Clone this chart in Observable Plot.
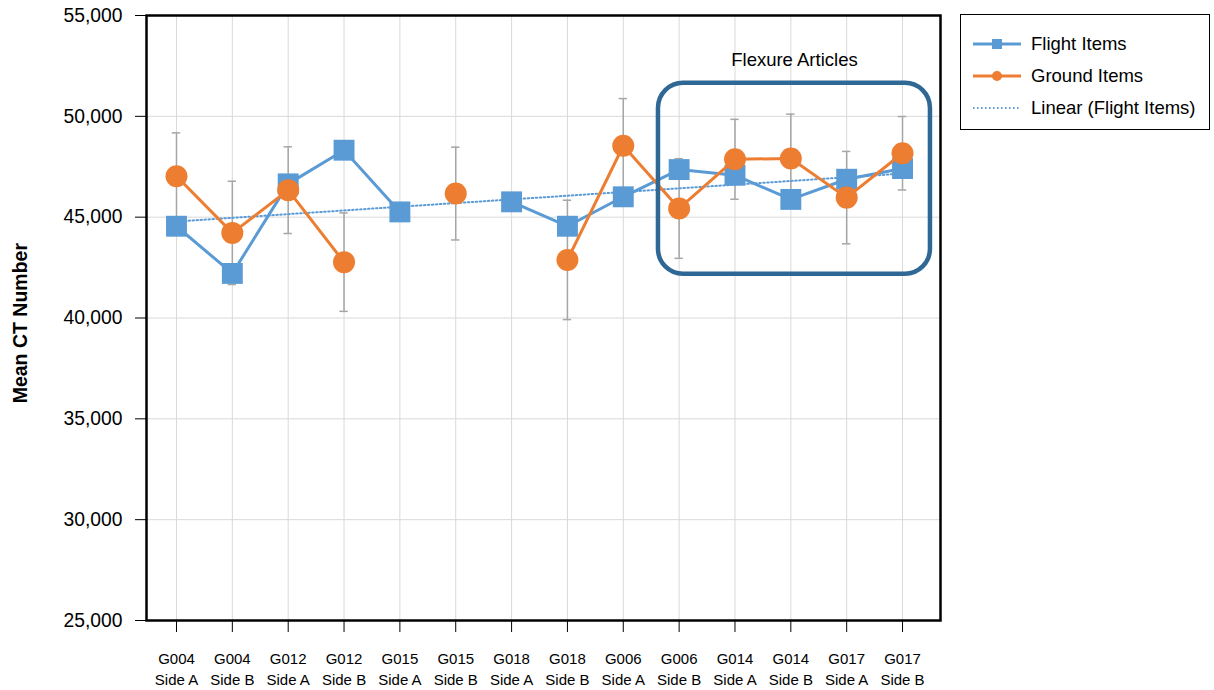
<!DOCTYPE html>
<html>
<head>
<meta charset="utf-8">
<script src="https://cdn.jsdelivr.net/npm/d3@7"></script>
<script src="https://cdn.jsdelivr.net/npm/@observablehq/plot@0.6"></script>
<style>
  html, body { margin: 0; padding: 0; background: white; }
  #wrap { position: relative; width: 1214px; height: 690px; font-family: "Liberation Sans", Arial, sans-serif; }
  #legend { position: absolute; left: 960px; top: 14px; width: 250px; height: 116px; border: 1.5px solid #000; box-sizing: border-box; background: white; }
  .item { position: absolute; left: 12px; height: 24px; display: flex; align-items: center; font-size: 18.5px; color: #000; }
  .item svg { margin-right: 10px; }
</style>
</head>
<body>
<div id="wrap"><div id="chart"></div>
  <div id="legend"></div>
</div>
<script>
// ---- Data ----
const items = ["G004","G004","G012","G012","G015","G015","G018","G018","G006","G006","G014","G014","G017","G017"];
const sides = ["Side A","Side B","Side A","Side B","Side A","Side B","Side A","Side B","Side A","Side B","Side A","Side B","Side A","Side B"];
const flight = [44550, 42210, 46650, 48320, 45260, null, 45760, 44550, 46010, 47360, 47080, 45880, 46880, 47410];
const ground = [47030, 44220, 46340, 42770, null, 46170, null, 42880, 48540, 45430, 47870, 47910, 45970, 48170];
const groundErr = [2150, 2560, 2150, 2440, null, 2300, null, 2960, 2340, 2470, 1980, 2200, 2290, 1820];
const yTicks = [25000, 30000, 35000, 40000, 45000, 50000, 55000];
const seriesNames = ["Flight Items", "Ground Items", "Linear (Flight Items)"];
const yLabel = "Mean CT Number";
// annotation box (data units: category index / CT number)
const flexureLabel = "Flexure Articles";
const flexureBox = {x1: 8.63, x2: 13.5, y1: 42170, y2: 51640};
const flexureLabelY = 52780;
// y-axis title anchor (data units, outside the frame)
const yLabelPos = {x: -2.79, y: 39745};

const blue = "#5B9BD5", orange = "#ED7D31";

const rows = items.map((it, i) => ({i, label: it + "\n" + sides[i], flight: flight[i], ground: ground[i], err: groundErr[i]}));
const gRows = rows.filter(d => d.ground != null && d.err != null);
const fRows = rows.filter(d => d.flight != null);

// linear trend of flight items (least squares over category index)
const mx = d3.mean(fRows, d => d.i), my = d3.mean(fRows, d => d.flight);
const slope = d3.sum(fRows, d => (d.i - mx) * (d.flight - my)) / d3.sum(fRows, d => (d.i - mx) ** 2);
const trend = rows.map(d => ({i: d.i, y: my + slope * (d.i - mx)}));

const caps = gRows.flatMap(d => [{i: d.i, y: d.ground - d.err}, {i: d.i, y: d.ground + d.err}]);

const chart = Plot.plot({
  width: 1214,
  height: 690,
  marginLeft: 146,
  marginRight: 274,
  marginTop: 15,
  marginBottom: 70,
  style: {fontFamily: "'Liberation Sans', Arial, sans-serif", color: "#000", background: "white"},
  x: {type: "linear", domain: [-0.537, 13.68]},
  y: {domain: [25000, 55000]},
  marks: [
    Plot.gridY({ticks: yTicks, stroke: "#d9d9d9", strokeOpacity: 1}),
    Plot.gridX({ticks: d3.range(items.length), stroke: "#d9d9d9", strokeOpacity: 1}),
    Plot.axisY({ticks: yTicks, tickFormat: d3.format(","), tickSize: 11, tickPadding: 13, fontSize: 19.3, label: null}),
    Plot.axisX({ticks: d3.range(items.length), tickFormat: i => rows[i].label, tickSize: 12, tickPadding: 17, fontSize: 15, lineHeight: 1.4, label: null}),
    Plot.ruleX(gRows, {x: "i", y1: d => d.ground - d.err, y2: d => d.ground + d.err, stroke: "#a6a6a6", strokeWidth: 1.5}),
    Plot.ruleY(caps, {y: "y", x1: d => d.i - 0.075, x2: d => d.i + 0.075, stroke: "#a6a6a6", strokeWidth: 1.5}),
    Plot.line(trend, {x: "i", y: "y", stroke: blue, strokeWidth: 2, strokeDasharray: "1.5,2.5"}),
    Plot.line(rows, {x: "i", y: "flight", stroke: blue, strokeWidth: 3}),
    Plot.dot(fRows, {x: "i", y: "flight", symbol: "square", r: 11.8, fill: blue, stroke: "none"}),
    Plot.line(rows, {x: "i", y: "ground", stroke: orange, strokeWidth: 3}),
    Plot.dot(rows.filter(d => d.ground != null), {x: "i", y: "ground", r: 11, fill: orange, stroke: "none"}),
    Plot.rect([flexureBox], {x1: "x1", x2: "x2", y1: "y1", y2: "y2", rx: 25, fill: "none", stroke: "#2F6795", strokeWidth: 4.5}),
    Plot.text([flexureLabel], {x: (flexureBox.x1 + flexureBox.x2) / 2, y: flexureLabelY, text: d => d, fontSize: 18.5, fill: "#000"}),
    Plot.text([yLabel], {x: yLabelPos.x, y: yLabelPos.y, rotate: -90, textAnchor: "middle", text: d => d, fontWeight: "bold", fontSize: 19.5, fill: "#000"}),
    Plot.frame({stroke: "#000", strokeWidth: 2.5})
  ]
});
document.getElementById("chart").appendChild(chart);

// legend
const legend = document.getElementById("legend");
const swatches = [
  `<svg width="48" height="14"><line x1="0" x2="48" y1="7" y2="7" stroke="${blue}" stroke-width="3"/><rect x="19" y="2" width="10" height="10" fill="${blue}"/></svg>`,
  `<svg width="48" height="14"><line x1="0" x2="48" y1="7" y2="7" stroke="${orange}" stroke-width="3"/><circle cx="24" cy="7" r="5" fill="${orange}"/></svg>`,
  `<svg width="48" height="14"><line x1="0" x2="48" y1="7" y2="7" stroke="${blue}" stroke-width="2" stroke-dasharray="1.5,2.5"/></svg>`
];
seriesNames.forEach((name, k) => {
  const div = document.createElement("div");
  div.className = "item";
  div.style.top = (17 + k * 32) + "px";
  div.innerHTML = swatches[k] + "<span>" + name + "</span>";
  legend.appendChild(div);
});
</script>
</body>
</html>
